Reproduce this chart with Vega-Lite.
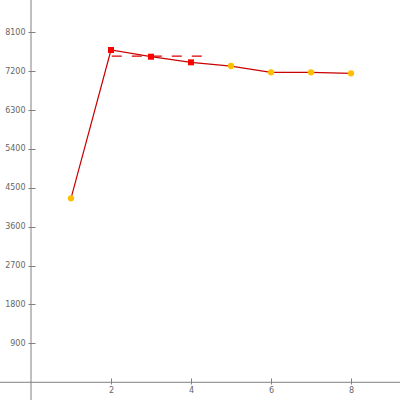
{
  "$schema": "https://vega.github.io/schema/vega-lite/v6.json",
  "width": 400,
  "height": 400,
  "autosize": {"type": "none"},
  "padding": 0,
  "background": "white",
  "config": {"view": {"stroke": null}},
  "datasets": {
    "series": [
      {"x": 1, "y": 4257, "kind": "other"},
      {"x": 2, "y": 7689, "kind": "mean"},
      {"x": 3, "y": 7534, "kind": "mean"},
      {"x": 4, "y": 7404, "kind": "mean"},
      {"x": 5, "y": 7318, "kind": "other"},
      {"x": 6, "y": 7173, "kind": "other"},
      {"x": 7, "y": 7173, "kind": "other"},
      {"x": 8, "y": 7150, "kind": "other"}
    ],
    "avg": [
      {"x": 2.02, "y": 7548},
      {"x": 4.27, "y": 7548}
    ],
    "origin": [
      {"x": 0, "y": 0}
    ]
  },
  "layer": [
    {
      "data": {"name": "origin"},
      "mark": {"type": "rule", "color": "#808080", "strokeWidth": 1},
      "encoding": {"x": {"field": "x", "type": "quantitative", "scale": {"domain": [-0.775, 9.225], "nice": false, "zero": false}}}
    },
    {
      "data": {"name": "origin"},
      "mark": {"type": "rule", "color": "#808080", "strokeWidth": 1},
      "encoding": {"y": {"field": "y", "type": "quantitative", "scale": {"domain": [-410, 8846], "nice": false, "zero": false}}}
    },
    {
      "data": {"name": "series"},
      "mark": {"type": "line", "color": "#c80000", "strokeWidth": 1.2},
      "encoding": {
        "x": {"field": "x", "type": "quantitative", "scale": {"domain": [-0.775, 9.225], "nice": false, "zero": false},
          "axis": {"title": null, "values": [2, 4, 6, 8], "format": "d", "offset": -22, "domain": false, "grid": false, "tickSize": 6, "tickColor": "#808080", "labelColor": "#666666", "labelFont": "DejaVu Sans", "labelFontSize": 8, "labelPadding": 2}},
        "y": {"field": "y", "type": "quantitative", "scale": {"domain": [-410, 8846], "nice": false, "zero": false},
          "axis": {"title": null, "values": [900, 1800, 2700, 3600, 4500, 5400, 6300, 7200, 8100], "format": "d", "offset": -35, "domain": false, "grid": false, "tickSize": 7, "tickColor": "#808080", "labelColor": "#666666", "labelFont": "DejaVu Sans", "labelFontSize": 8, "labelPadding": 3}}
      }
    },
    {
      "data": {"name": "avg"},
      "mark": {"type": "line", "color": "#dd0000", "strokeWidth": 1.2, "strokeDash": [10, 10]},
      "encoding": {
        "x": {"field": "x", "type": "quantitative"},
        "y": {"field": "y", "type": "quantitative"}
      }
    },
    {
      "data": {"name": "series"},
      "transform": [{"filter": "datum.kind === 'other'"}],
      "mark": {"type": "point", "shape": "circle", "filled": true, "color": "#ffbf00", "size": 40, "opacity": 1},
      "encoding": {
        "x": {"field": "x", "type": "quantitative"},
        "y": {"field": "y", "type": "quantitative"}
      }
    },
    {
      "data": {"name": "series"},
      "transform": [{"filter": "datum.kind === 'mean'"}],
      "mark": {"type": "point", "shape": "square", "filled": true, "color": "#ff0000", "size": 36, "opacity": 1},
      "encoding": {
        "x": {"field": "x", "type": "quantitative"},
        "y": {"field": "y", "type": "quantitative"}
      }
    }
  ]
}
